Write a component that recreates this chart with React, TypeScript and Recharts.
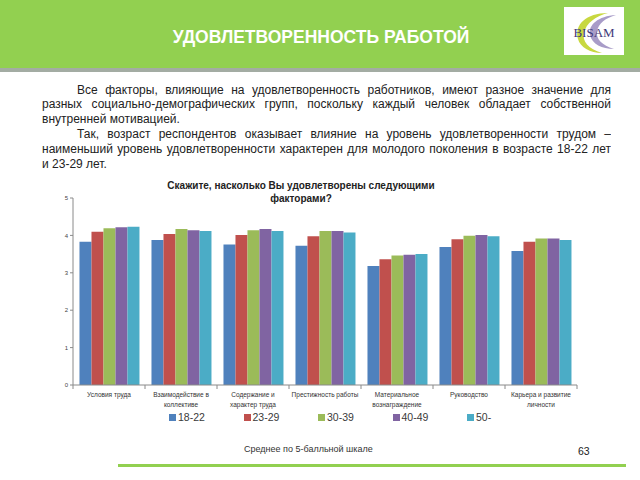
import React from 'react';
import { BarChart, Bar, XAxis, YAxis, Legend } from 'recharts';

const categories = [
  'Условия труда',
  'Взаимодействие в\nколлективе',
  'Содержание и\nхарактер труда',
  'Престижность работы',
  'Материальное\nвознаграждение',
  'Руководство',
  'Карьера и развитие\nличности',
];
const age18_22 = [3.83, 3.88, 3.76, 3.72, 3.18, 3.69, 3.58];
const age23_29 = [4.10, 4.04, 4.01, 3.98, 3.36, 3.90, 3.83];
const age30_39 = [4.19, 4.17, 4.14, 4.12, 3.46, 3.99, 3.92];
const age40_49 = [4.22, 4.14, 4.17, 4.12, 3.48, 4.01, 3.92];
const age50 = [4.23, 4.12, 4.12, 4.08, 3.50, 3.98, 3.88];
const seriesNames = ['18-22', '23-29', '30-39', '40-49', '50-'];
const seriesColors = ['#4F81BD', '#C0504D', '#9BBB59', '#8064A2', '#4BACC6'];
const yTicks = [0, 1, 2, 3, 4, 5];

const seriesValues = [age18_22, age23_29, age30_39, age40_49, age50];
const data = categories.map((name, i) => {
  const row: Record<string, string | number> = { name };
  seriesNames.forEach((s, k) => {
    row[s] = seriesValues[k][i];
  });
  return row;
});

const FONT = '"Liberation Sans", Arial, sans-serif';

const XTick = (props: any) => {
  const { x, y, payload, index, width, visibleTicksCount } = props;
  let half = payload && typeof payload.offset === 'number' && payload.offset > 0 ? payload.offset : 0;
  if (!half && width && visibleTicksCount) half = width / visibleTicksCount / 2;
  const lines = String(payload.value).split('\n');
  const isLast = visibleTicksCount ? index === visibleTicksCount - 1 : index === categories.length - 1;
  return (
    <g>
      <line x1={x - half} x2={x - half} y1={y} y2={y + 4} stroke="#8a8a8a" strokeWidth={1} />
      {isLast && <line x1={x + half} x2={x + half} y1={y} y2={y + 4} stroke="#8a8a8a" strokeWidth={1} />}
      <text x={x} y={y} textAnchor="middle" fontSize={6.5} fill="#333" fontFamily={FONT}>
        {lines.map((l, i) => (
          <tspan key={i} x={x} y={y + 12 + i * 9.5}>
            {l}
          </tspan>
        ))}
      </text>
    </g>
  );
};

const LegendContent = (props: any) => {
  const payload = props.payload || [];
  return (
    <div style={{ display: 'flex', fontFamily: FONT }}>
      {payload.map((p: any, i: number) => (
        <div key={i} style={{ width: 74.5, display: 'flex', alignItems: 'center' }}>
          <span style={{ width: 7, height: 7, background: p.color, display: 'inline-block' }} />
          <span style={{ marginLeft: 2, fontSize: 10.5, color: '#3a3a3a' }}>{p.value}</span>
        </div>
      ))}
    </div>
  );
};

const lineStyle: React.CSSProperties = {
  position: 'absolute',
  left: 42,
  width: 569,
  fontSize: 12,
  lineHeight: '14.8px',
  height: 14.8,
  color: '#222',
  fontFamily: FONT,
  whiteSpace: 'normal',
  overflow: 'hidden',
};

export default function App() {
  return (
    <div style={{ position: 'absolute', left: 0, top: 0, width: 640, height: 480, background: '#fff', overflow: 'hidden' }}>
      {/* header */}
      <div style={{ position: 'absolute', left: 0, top: 0, width: 640, height: 68, background: '#92D050' }} />
      <div style={{ position: 'absolute', left: 0, top: 68, width: 640, height: 4, background: '#A3ACA3' }} />
      <div
        style={{
          position: 'absolute',
          left: 0,
          top: 27,
          width: 642,
          textAlign: 'center',
          color: '#fff',
          fontWeight: 'bold',
          fontSize: 17.5,
          lineHeight: '20px',
          fontFamily: FONT,
        }}
      >
        УДОВЛЕТВОРЕННОСТЬ РАБОТОЙ
      </div>
      {/* logo */}
      <div style={{ position: 'absolute', left: 564, top: 7, width: 60, height: 48, background: '#fff' }}>
        <svg width={60} height={48}>
          <path d="M44 6 C22 6 10 18 14 32 C16 40 26 46 38 46 C24 42 18 34 20 26 C22 16 32 9 44 6 Z" fill="#C8D840" />
          <path d="M52 8 C34 9 24 18 26 28 C28 37 38 42 50 42 C38 38 32 32 33 25 C34 16 42 11 52 8 Z" fill="#A89CC8" />
          <text x={30} y={30} textAnchor="middle" fontSize={13} fontFamily='"Liberation Serif", serif' fill="#3F3A7A">
            BISAM
          </text>
        </svg>
      </div>
      {/* paragraph */}
      <div style={{ ...lineStyle, top: 82.6, textAlign: 'justify', textAlignLast: 'justify', paddingLeft: 35, width: 534 }}>
        Все факторы, влияющие на удовлетворенность работников, имеют разное значение для
      </div>
      <div style={{ ...lineStyle, top: 97.4, textAlign: 'justify', textAlignLast: 'justify' }}>
        разных социально-демографических групп, поскольку каждый человек обладает собственной
      </div>
      <div style={{ ...lineStyle, top: 112.2 }}>внутренней мотивацией.</div>
      <div style={{ ...lineStyle, top: 127, textAlign: 'justify', textAlignLast: 'justify', paddingLeft: 35, width: 534 }}>
        Так, возраст респондентов оказывает влияние на уровень удовлетворенности трудом –
      </div>
      <div style={{ ...lineStyle, top: 141.8, textAlign: 'justify', textAlignLast: 'justify' }}>
        наименьший уровень удовлетворенности характерен для молодого поколения в возрасте 18-22 лет
      </div>
      <div style={{ ...lineStyle, top: 156.6 }}>и 23-29 лет.</div>

      {/* chart title */}
      <div
        style={{
          position: 'absolute',
          left: 151,
          top: 179,
          width: 300,
          textAlign: 'center',
          fontSize: 10,
          lineHeight: '13px',
          fontWeight: 'bold',
          color: '#222',
          fontFamily: FONT,
        }}
      >
        Скажите, насколько Вы удовлетворены следующими
        <br />
        факторами?
      </div>

      <div style={{ position: 'absolute', left: 0, top: 175 }}>
        <BarChart
          width={640}
          height={260}
          data={data}
          margin={{ top: 23, right: 63, left: 0, bottom: 20 }}
          barCategoryGap="9%"
          barGap={0}
        >
          <XAxis
            dataKey="name"
            interval={0}
            tick={<XTick />}
            tickLine={false}
            tickSize={0}
            tickMargin={0}
            axisLine={{ stroke: '#8a8a8a' }}
            height={30}
          />
          <YAxis
            domain={[0, 5]}
            ticks={yTicks}
            width={73}
            tickSize={3}
            tick={{ fontSize: 6, fill: '#444', fontFamily: FONT }}
            axisLine={{ stroke: '#8a8a8a' }}
            tickLine={{ stroke: '#8a8a8a' }}
          />
          <Legend
            verticalAlign="middle"
            content={<LegendContent />}
            wrapperStyle={{ top: 236, left: 169, width: 420, height: 14 }}
          />
          {seriesNames.map((s, k) => (
            <Bar key={s} dataKey={s} fill={seriesColors[k]} isAnimationActive={false} />
          ))}
        </BarChart>
      </div>

      {/* footer */}
      <div style={{ position: 'absolute', left: 244, top: 443, fontSize: 9, lineHeight: '12px', color: '#333', fontFamily: FONT }}>
        Среднее по 5-балльной шкале
      </div>
      <div style={{ position: 'absolute', left: 578, top: 444, fontSize: 10.5, lineHeight: '14px', color: '#222', fontFamily: FONT }}>
        63
      </div>
      <div style={{ position: 'absolute', left: 118, top: 464, width: 508, height: 3, background: '#92D050' }} />
    </div>
  );
}
